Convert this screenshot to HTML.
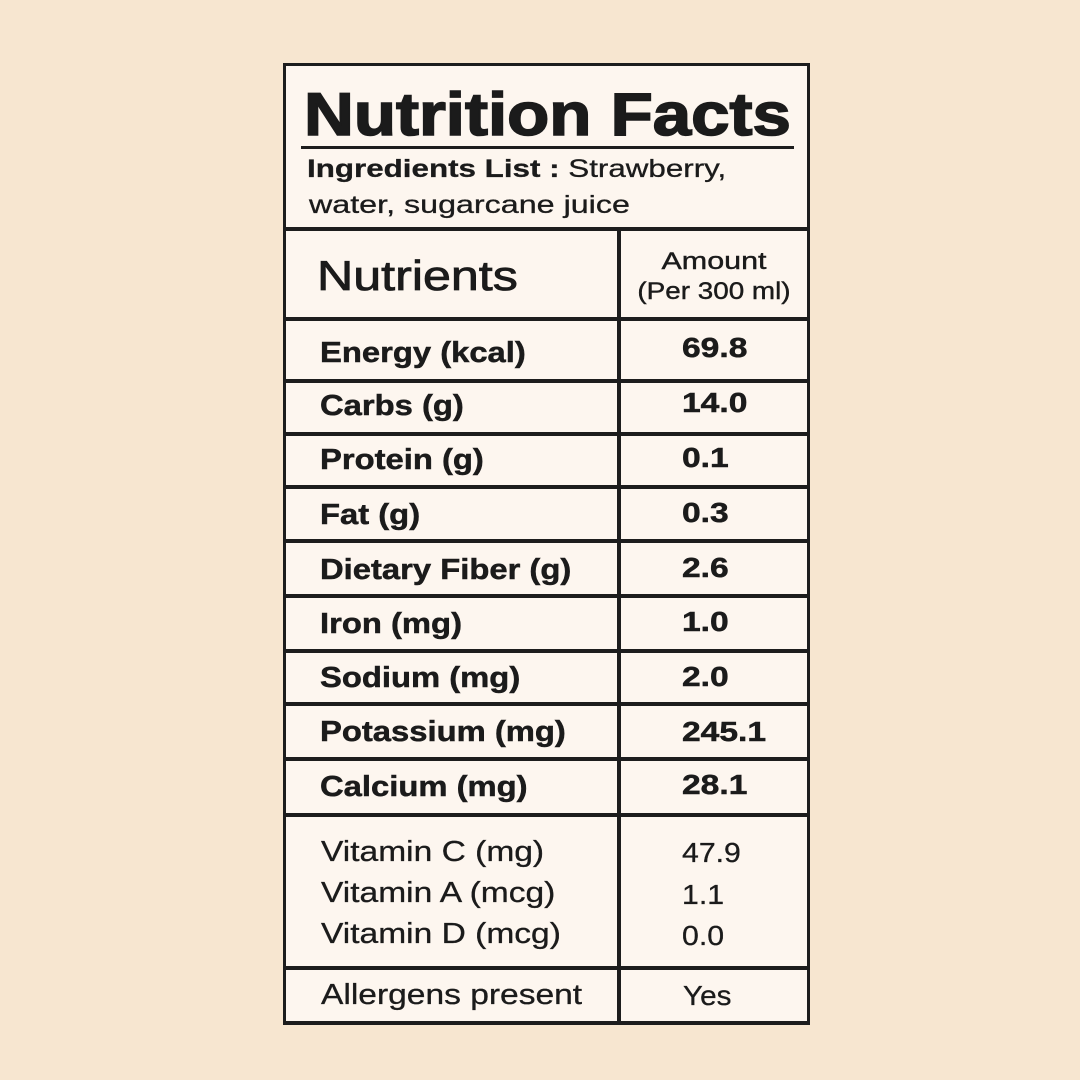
<!DOCTYPE html>
<html>
<head>
<meta charset="utf-8">
<style>
  html, body { margin:0; padding:0; }
  body { width:1080px; height:1080px; background:#F7E6D0; position:relative; overflow:hidden;
         font-family:"Liberation Sans", Arial, sans-serif; color:#1b1b1b; }
  .box { position:absolute; left:283px; top:63px; width:527px; height:962px; background:#FDF6EF; }
  .ln { position:absolute; background:#1d1d1d; }
  .h { left:283px; width:527px; height:4px; }
  .t { position:absolute; white-space:nowrap; transform-origin:0 0; }
  .bl { font-size:29px; line-height:29px; font-weight:bold; left:319.5px; transform:scaleX(1.13); -webkit-text-stroke:0.5px #1b1b1b; }
  .bv { font-size:28px; line-height:28px; font-weight:bold; left:681.5px; transform:scaleX(1.2); -webkit-text-stroke:0.5px #1b1b1b; }
  .rl { font-size:29px; line-height:29px; font-weight:normal; left:321px; transform:scaleX(1.157); -webkit-text-stroke:0.3px #1b1b1b; }
  .rv { font-size:28px; line-height:28px; font-weight:normal; left:681.5px; transform:scaleX(1.08); -webkit-text-stroke:0.3px #1b1b1b; }
</style>
</head>
<body>
  <div class="box"></div>

  <!-- outer borders -->
  <div class="ln" style="left:283px;top:63px;width:527px;height:3px;"></div>
  <div class="ln" style="left:283px;top:63px;width:3px;height:962px;"></div>
  <div class="ln" style="left:807px;top:63px;width:3px;height:962px;"></div>
  <div class="ln" style="left:283px;top:1021px;width:527px;height:4px;"></div>

  <!-- title underline -->
  <div class="ln" style="left:301px;top:145.5px;width:493px;height:3px;"></div>

  <!-- horizontal lines -->
  <div class="ln h" style="top:227px;"></div>
  <div class="ln h" style="top:317px;"></div>
  <div class="ln h" style="top:379px;"></div>
  <div class="ln h" style="top:432px;"></div>
  <div class="ln h" style="top:485px;"></div>
  <div class="ln h" style="top:539px;"></div>
  <div class="ln h" style="top:594px;"></div>
  <div class="ln h" style="top:649px;"></div>
  <div class="ln h" style="top:702px;"></div>
  <div class="ln h" style="top:757px;"></div>
  <div class="ln h" style="top:813px;"></div>
  <div class="ln h" style="top:966px;"></div>

  <!-- vertical divider -->
  <div class="ln" style="left:617px;top:227px;width:4px;height:798px;"></div>

  <!-- Title -->
  <div class="t" style="left:303.5px;top:84.8px;font-size:60px;line-height:60px;font-weight:bold;transform:scaleX(1.15);-webkit-text-stroke:1.6px #1b1b1b;">Nutrition Facts</div>

  <!-- Ingredients -->
  <div class="t" style="left:307px;top:156.6px;font-size:25px;line-height:25px;transform:scaleX(1.254);"><b style="-webkit-text-stroke:0.3px #1b1b1b;">Ingredients List :</b> <span style="-webkit-text-stroke:0.3px #1b1b1b;">Strawberry,</span></div>
  <div class="t" style="left:309px;top:193.3px;font-size:25px;line-height:25px;transform:scaleX(1.29);-webkit-text-stroke:0.3px #1b1b1b;">water, sugarcane juice</div>

  <!-- Header -->
  <div class="t" style="left:317px;top:255px;font-size:42px;line-height:42px;transform:scaleX(1.195);-webkit-text-stroke:0.8px #1b1b1b;">Nutrients</div>
  <div class="t" style="left:621px;width:186px;text-align:center;top:249.7px;font-size:24px;line-height:24px;transform-origin:50% 0;transform:scaleX(1.27);-webkit-text-stroke:0.4px #1b1b1b;">Amount</div>
  <div class="t" style="left:621px;width:186px;text-align:center;top:279.5px;font-size:24px;line-height:24px;transform-origin:50% 0;transform:scaleX(1.16);-webkit-text-stroke:0.4px #1b1b1b;">(Per 300 ml)</div>

  <!-- Bold rows -->
  <div class="t bl" style="top:338.7px;">Energy (kcal)</div>
  <div class="t bv" style="top:333.8px;">69.8</div>

  <div class="t bl" style="top:392px;">Carbs (g)</div>
  <div class="t bv" style="top:388.8px;">14.0</div>

  <div class="t bl" style="top:446px;">Protein (g)</div>
  <div class="t bv" style="top:444.3px;">0.1</div>

  <div class="t bl" style="top:501px;">Fat (g)</div>
  <div class="t bv" style="top:498.8px;">0.3</div>

  <div class="t bl" style="top:555.5px;">Dietary Fiber (g)</div>
  <div class="t bv" style="top:553.8px;">2.6</div>

  <div class="t bl" style="top:609.5px;">Iron (mg)</div>
  <div class="t bv" style="top:608.3px;">1.0</div>

  <div class="t bl" style="top:664px;">Sodium (mg)</div>
  <div class="t bv" style="top:662.8px;">2.0</div>

  <div class="t bl" style="top:717.7px;">Potassium (mg)</div>
  <div class="t bv" style="top:717.5px;">245.1</div>

  <div class="t bl" style="top:772.5px;">Calcium (mg)</div>
  <div class="t bv" style="top:771px;">28.1</div>

  <!-- Vitamins -->
  <div class="t rl" style="top:837.5px;">Vitamin C (mg)</div>
  <div class="t rv" style="top:839px;">47.9</div>

  <div class="t rl" style="top:879px;">Vitamin A (mcg)</div>
  <div class="t rv" style="top:880.5px;">1.1</div>

  <div class="t rl" style="top:920px;">Vitamin D (mcg)</div>
  <div class="t rv" style="top:921.8px;">0.0</div>

  <!-- Allergens -->
  <div class="t rl" style="top:981px;">Allergens present</div>
  <div class="t rv" style="top:981.8px;left:682.5px;transform:scaleX(1.06);">Yes</div>
</body>
</html>
